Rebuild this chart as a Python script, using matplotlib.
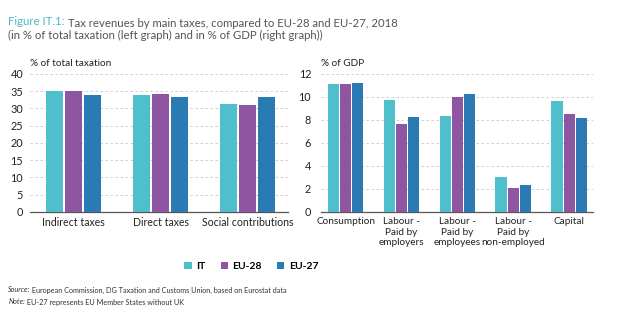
import matplotlib.pyplot as plt
import numpy as np

plt.rcParams['font.family'] = ['Lato', 'DejaVu Sans']

series = ['IT', 'EU-28', 'EU-27']
colors = ['#4fc0cb', '#8d55a2', '#2a7bb4']

left_cats = ['Indirect taxes', 'Direct taxes', 'Social contributions']
left_vals = {
    'IT': [34.9, 33.9, 31.3],
    'EU-28': [34.9, 34.2, 31.0],
    'EU-27': [33.9, 33.2, 33.2],
}

right_cats = ['Consumption', 'Labour -\nPaid by\nemployers', 'Labour -\nPaid by\nemployees',
              'Labour -\nPaid by\nnon-employed', 'Capital']
right_vals = {
    'IT': [11.1, 9.7, 8.35, 3.05, 9.6],
    'EU-28': [11.1, 7.65, 10.0, 2.05, 8.5],
    'EU-27': [11.2, 8.25, 10.25, 2.35, 8.2],
}

fig = plt.figure(figsize=(6.28, 3.24), dpi=100)
ax1 = fig.add_axes([0.048, 0.346, 0.411, 0.426])
ax2 = fig.add_axes([0.511, 0.346, 0.433, 0.426])


def draw(ax, cats, vals, ymax, step, width, label, xlim, fs, ypad):
    x = np.arange(len(cats))
    for i, s in enumerate(series):
        ax.bar(x + (i - 1) * step, vals[s], width, color=colors[i], label=s, zorder=3)
    ax.set_ylim(0, ymax)
    ax.set_xlim(*xlim)
    ax.set_xticks(x)
    ax.set_xticklabels(cats, fontsize=fs, color='#222222', linespacing=1.2)
    ax.tick_params(axis='x', length=0, pad=4)
    ax.tick_params(axis='y', length=0, labelsize=7.8, labelcolor='#222222', pad=ypad)
    ax.grid(axis='y', color='#c8c8c8', linestyle=(0, (3, 3)), linewidth=0.6, zorder=0)
    for sp in ['left', 'right', 'top']:
        ax.spines[sp].set_visible(False)
    ax.spines['bottom'].set_color('#555555')
    ax.spines['bottom'].set_linewidth(0.9)
    ax.text(0.0, 1.04, label, transform=ax.transAxes, fontsize=7.2, color='#222222',
            ha='left', va='bottom')


draw(ax1, left_cats, left_vals, 40, 0.215, 0.195, '% of total taxation', (-0.5, 2.47), 7.6, 5)
ax1.set_yticks(range(0, 41, 5))
draw(ax2, right_cats, right_vals, 12, 0.22, 0.2, '% of GDP', (-0.44, 4.42), 7.2, 7)
ax2.set_yticks(range(0, 13, 2))

handles, labels = ax1.get_legend_handles_labels()
fig.legend(handles, labels, loc='center', bbox_to_anchor=(0.40, 0.178), ncol=3, frameon=False,
           handlelength=0.7, handleheight=0.7, columnspacing=1.5,
           handletextpad=0.4, prop={'weight': 'bold', 'size': 7.5})

# title: coloured figure number followed by the grey caption
t1 = fig.text(0.013, 0.922, 'Figure IT.1:', color='#4bb8c6', fontsize=8.2, ha='left', va='baseline')
ax1.annotate(' Tax revenues by main taxes, compared to EU-28 and EU-27, 2018', xy=(1, 0),
             xycoords=t1, va='baseline', ha='left', fontsize=8.2, color='#555555',
             annotation_clip=False)
fig.text(0.013, 0.88, '(in % of total taxation (left graph) and in % of GDP (right graph))',
         color='#555555', fontsize=8.2, ha='left', va='baseline')

s1 = fig.text(0.013, 0.098, 'Source:', style='italic', fontsize=5.2, color='#333333',
              ha='left', va='baseline')
ax1.annotate(' European Commission, DG Taxation and Customs Union, based on Eurostat data',
             xy=(1, 0), xycoords=s1, va='baseline', ha='left', fontsize=5.2, color='#333333',
             annotation_clip=False)
n1 = fig.text(0.013, 0.062, 'Note:', style='italic', fontsize=5.2, color='#333333',
              ha='left', va='baseline')
ax1.annotate(' EU-27 represents EU Member States without UK',
             xy=(1, 0), xycoords=n1, va='baseline', ha='left', fontsize=5.2, color='#333333',
             annotation_clip=False)

fig.savefig('out.png', dpi=100)
